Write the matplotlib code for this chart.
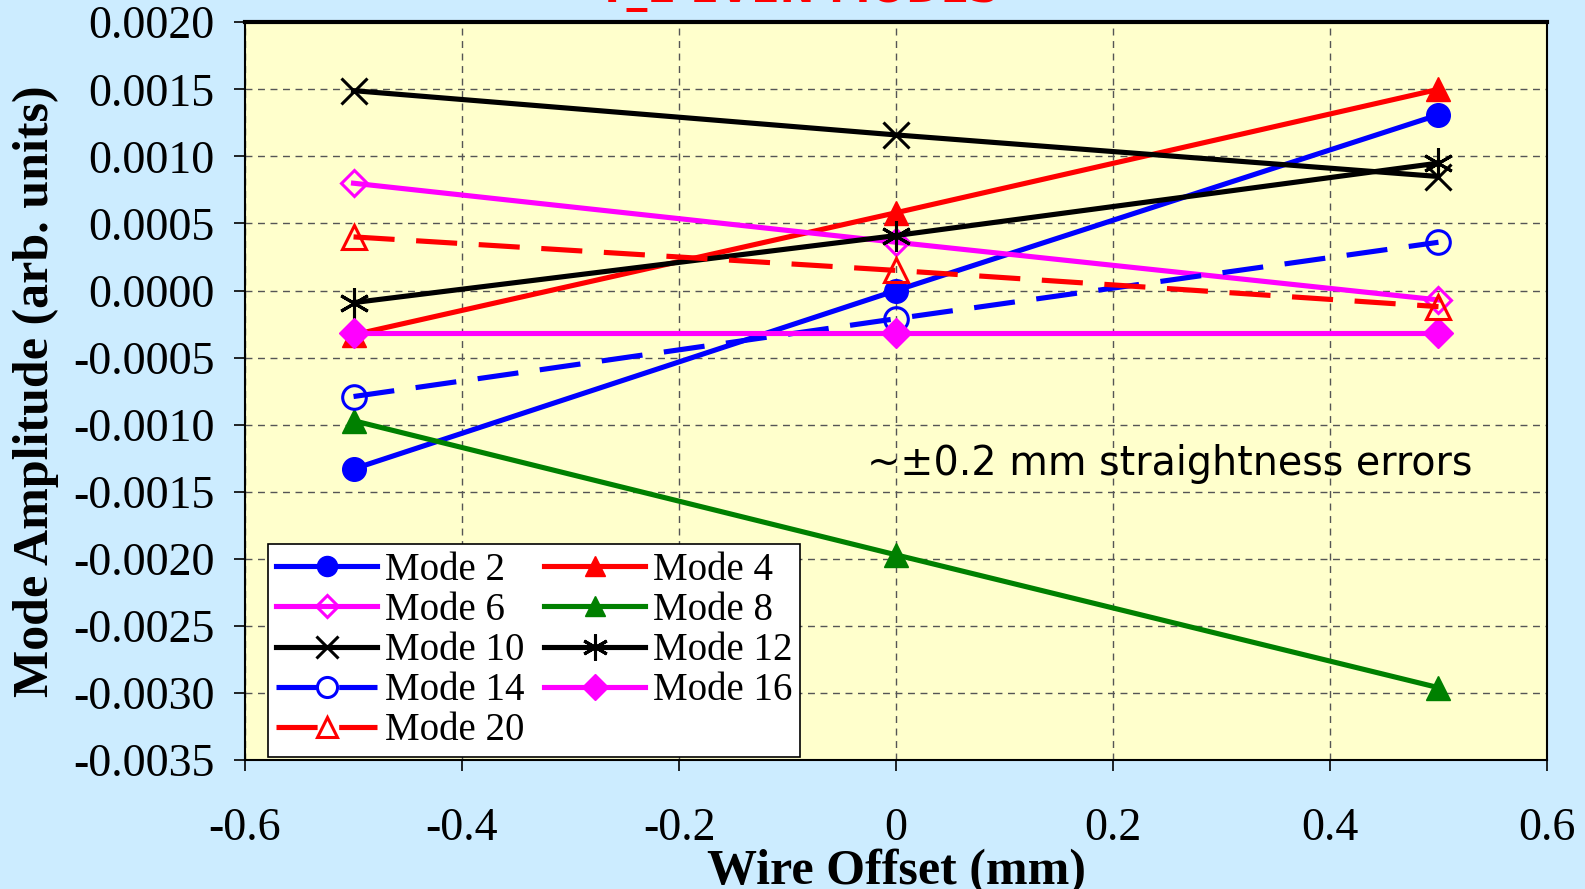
import matplotlib
matplotlib.use("Agg")
import matplotlib.pyplot as plt

offset = [-0.5, 0.0, 0.5]
mode2 = [-0.00133, 0.0, 0.00131]
mode4 = [-0.00033, 0.00058, 0.00150]
mode6 = [0.00080, 0.00036, -0.00007]
mode8 = [-0.00097, -0.00197, -0.00296]
mode10 = [0.00149, 0.00116, 0.00085]
mode12 = [-0.00009, 0.00041, 0.00095]
mode14 = [-0.00079, -0.00021, 0.00036]
mode16 = [-0.00032, -0.00032, -0.00032]
mode20 = [0.00040, 0.00015, -0.00012]

serif = ["Liberation Serif", "DejaVu Serif"]

fig = plt.figure(figsize=(15.85, 8.89), dpi=100, facecolor="#CCECFF")
ax = fig.add_axes([0.1546, 0.145, 0.8214, 0.830])
ax.set_facecolor("#FFFFCC")

lw = 3.7
ms = 17
dash = (0, (8, 4.2))
h = {}
h[2], = ax.plot(offset, mode2, color="blue", lw=lw, marker="o", ms=ms, label="Mode 2")
h[4], = ax.plot(offset, mode4, color="red", lw=lw, marker="^", ms=ms, label="Mode 4")
h[6], = ax.plot(offset, mode6, color="magenta", lw=lw, marker="D", ms=13,
                mfc="none", mew=2.2, label="Mode 6")
h[8], = ax.plot(offset, mode8, color="green", lw=lw, marker="^", ms=ms, label="Mode 8")
h[10], = ax.plot(offset, mode10, color="black", lw=lw, marker="x", ms=19, mew=2.2,
                 label="Mode 10")
h[12], = ax.plot(offset, mode12, color="black", lw=lw, marker=(6, 2, 0), ms=22, mew=2.2,
                 label="Mode 12")
h[14], = ax.plot(offset, mode14, color="blue", lw=lw, marker="o", ms=ms, mfc="none",
                 mew=2.2, linestyle=dash, label="Mode 14")
h[16], = ax.plot(offset, mode16, color="magenta", lw=lw, marker="D", ms=15, label="Mode 16")
h[20], = ax.plot(offset, mode20, color="red", lw=lw, marker="^", ms=ms, mfc="none",
                 mew=2.2, linestyle=dash, label="Mode 20")

ax.set_xlim(-0.6, 0.6)
ax.set_ylim(-0.0035, 0.002)
ax.set_xticks([-0.6, -0.4, -0.2, 0, 0.2, 0.4, 0.6])
ax.set_xticklabels(["-0.6", "-0.4", "-0.2", "0", "0.2", "0.4", "0.6"])
yt = [-0.0035 + 0.0005 * i for i in range(12)]
ax.set_yticks(yt)
ax.set_yticklabels(["%.4f" % v if abs(v) > 1e-9 else "0.0000" for v in yt])
ax.grid(True, color="#555555", linestyle=(0, (5, 4)), lw=1)
ax.tick_params(labelsize=33, length=8, width=1.2)
ax.tick_params(axis="x", pad=26)
ax.tick_params(axis="y", pad=14)
for lab in ax.get_xticklabels() + ax.get_yticklabels():
    lab.set_family(serif)
for s in ax.spines.values():
    s.set_linewidth(1.5)
ax.spines["top"].set_linewidth(3)

ax.set_xlabel("Wire Offset (mm)", fontsize=36, fontweight="bold", family=serif, labelpad=-1)
ax.set_ylabel("Mode Amplitude (arb. units)", fontsize=36, fontweight="bold", family=serif,
              labelpad=10)

order = [2, 6, 10, 14, 20, 4, 8, 12, 16]
leg = ax.legend([h[k] for k in order], [h[k].get_label() for k in order], ncol=2,
                loc="lower left", bbox_to_anchor=(0.018, 0.004),
                prop={"family": serif, "size": 28}, fancybox=False, framealpha=1,
                edgecolor="black", handlelength=2.6, handletextpad=0.2,
                columnspacing=0.5, labelspacing=0.08, borderpad=0.2, borderaxespad=0,
                markerscale=0.85)
leg.get_frame().set_linewidth(1.2)

ax.text(0.478, 0.401, "~\u00b10.2 mm straightness errors", transform=ax.transAxes,
        fontsize=28.5, family=["DejaVu Sans"], va="center", ha="left")

fig.text(0.504, 0.9978, "T_E EVEN MODES", color="red", fontsize=30, fontweight="bold",
         ha="center", va="baseline", family=["DejaVu Sans"])

fig.savefig("out.png", dpi=100, facecolor=fig.get_facecolor())
